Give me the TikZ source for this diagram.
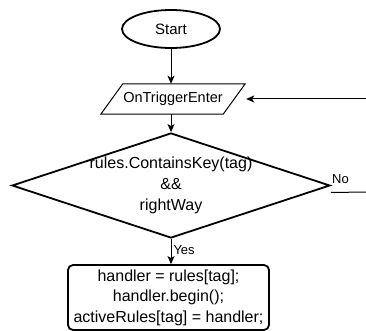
\documentclass[tikz,border=0pt]{standalone}
\usepackage{fontspec}
\setmainfont{Liberation Sans}
\usetikzlibrary{shapes.geometric,arrows.meta}

\begin{document}
\begin{tikzpicture}[x=1pt,y=-1pt,
  every node/.style={inner sep=0pt},
  line/.style={line width=1pt,-{Stealth[length=8pt,width=7pt,inset=2pt]}},
  thickline/.style={line width=1.8pt},
  lbl/.style={font=\fontsize{13}{15}\selectfont}]
  \useasboundingbox (0,0) rectangle (366,331);
  \node[ellipse,draw,thickline,minimum width=98pt,minimum height=38pt,
    font=\fontsize{15}{18}\selectfont] (start) at (171,29) {Start};
  \node[minimum width=144pt,minimum height=30pt,
    font=\fontsize{14.5}{17}\selectfont] (trig) at (173,99) {OnTriggerEnter};
  % slanted input box round the text
  \draw[line width=1pt] ([xshift=22pt]trig.north west) -- (trig.north east)
    -- ([xshift=-22pt]trig.south east) -- (trig.south west) -- cycle;
  % the test, text set over the diamond
  \node[diamond,draw,thickline,minimum width=318pt,minimum height=105pt] (cond) at (171,185.5) {};
  \node[align=center,font=\fontsize{16}{21}\selectfont] (condtext) at (cond.center)
    {rules.ContainsKey(tag)\\\&\&\\rightWay};
  \node[draw,thickline,rounded corners=5pt,minimum width=201pt,minimum height=65pt,
    align=center,font=\fontsize{16}{20.5}\selectfont] (act) at (168.5,297.5)
    {handler = rules[tag];\\handler.begin();\\activeRules[tag] = handler;};
  \coordinate (loopin) at (368,99);
  \coordinate (noend) at (366,192);
  \draw[line] (start) -- (start |- trig.north);
  \draw[line] (start |- trig.south) -- (cond);
  \draw[line] (loopin) -- ([xshift=1pt]trig.east);
  \draw[line] (cond.south) -- (cond.south |- act.north)
    node[midway,right,xshift=2pt,yshift=1pt,lbl] {Yes};
  \draw[line width=1pt] ([yshift=-7pt]cond.east) -- (noend);
  \node[anchor=base west,lbl] (no) at (332,183) {No};
\end{tikzpicture}
\end{document}
